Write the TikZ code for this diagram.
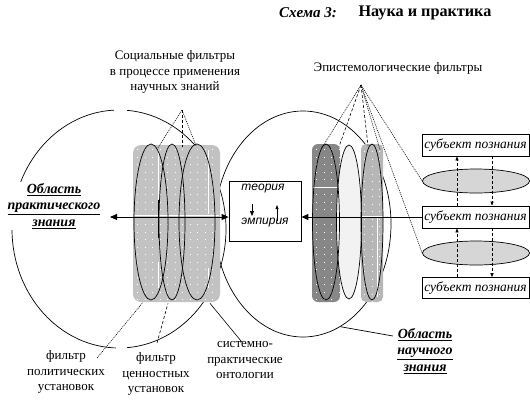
\documentclass[tikz,border=0pt]{standalone}
\usepackage{fontspec}
\setmainfont{Liberation Serif}
\setsansfont{Liberation Sans}
\usetikzlibrary{shapes.geometric,calc,arrows.meta}
\definecolor{lgrey}{RGB}{194,194,194}
\definecolor{dgrey}{RGB}{135,135,135}
\definecolor{mgrey}{RGB}{182,182,182}
\definecolor{vlight}{RGB}{242,242,242}
\definecolor{ellgrey}{RGB}{214,214,214}
\begin{document}
\begin{tikzpicture}[x=1pt,y=-1pt,
  thin line/.style={line width=0.7pt},
  bigcirc/.style={ellipse, draw, line width=0.7pt, inner sep=0pt},
  filt/.style={ellipse, draw, line width=0.7pt, inner sep=0pt},
  lbl/.style={font=\fontsize{13}{15.5}\selectfont, align=center, inner sep=0pt},
  area/.style={font=\fontsize{14}{16.5}\selectfont\bfseries\itshape, align=center, inner sep=1pt},
  subj/.style={draw, fill=white, line width=0.7pt, minimum width=107pt, minimum height=22pt, inner sep=0pt, font=\fontsize{13.5}{15}\selectfont\itshape},
  sansit/.style={font=\sffamily\itshape\fontsize{12}{14}\selectfont, inner sep=0pt},
  fdot/.style={line width=0.6pt, dash pattern=on 1pt off 1pt},
  fdash/.style={line width=0.6pt, dash pattern=on 3pt off 2pt},
  mainarrow/.style={line width=0.9pt, -{Triangle[length=7pt,width=6pt]}},
  smallarrow/.style={line width=0.7pt, -{Triangle[length=5pt,width=4pt]}},
  dasharrow/.style={line width=0.6pt, dash pattern=on 3pt off 2pt, -{Triangle[length=4pt,width=3pt]}},
  scanline/.style={white, line width=0.7pt}
]
\useasboundingbox (0,0) rectangle (530,410);

% title
\node[font=\fontsize{15}{18}\selectfont\bfseries\itshape, inner sep=0pt] (t1) at (308,13) {Схема 3:};
\node[font=\fontsize{16.2}{18}\selectfont\bfseries, inner sep=0pt] (t2) at (425,13) {Наука и практика};

% big regions
\node[bigcirc, minimum width=214pt, minimum height=238pt] (lc) at (119,229) {};
\node[bigcirc, minimum width=176pt, minimum height=226pt] (rc) at (303,224) {};
\fill[white] (114,105) rectangle (127,115);
\fill[white] (116,343) rectangle (127,353);

% left filter group background
\fill[lgrey, rounded corners=8pt] (133,145) rectangle (220,302);
\begin{scope}
  \clip[rounded corners=8pt] (133,145) rectangle (220,302);
  \foreach \x in {137,144.5,...,220} \foreach \y in {149,156.5,...,302}
    \fill[white] (\x,\y) rectangle ++(1.4,1.4);
\end{scope}
\draw[scanline] (158,150) -- (158,214);
\draw[scanline] (208,150) -- (208,214);
\draw[scanline] (158,262) -- (158,288);
\draw[scanline] (208,268) -- (208,288);
\draw[scanline] (134,215.5) -- (219,215.5);

% right filter backgrounds
\fill[dgrey, rounded corners=6pt] (312,144) rectangle (340,302);
\fill[mgrey, rounded corners=5pt] (361,144) rectangle (383,302);
\begin{scope}
  \clip[rounded corners=6pt] (312,144) rectangle (340,302);
  \foreach \x in {316,323.5,...,340} \foreach \y in {149,156.5,...,302}
    \fill[white] (\x,\y) rectangle ++(1.4,1.4);
\end{scope}
\begin{scope}
  \clip[rounded corners=5pt] (361,144) rectangle (383,302);
  \foreach \x in {364,371.5,...,383} \foreach \y in {151,158.5,...,302}
    \fill[white] (\x,\y) rectangle ++(1.4,1.4);
\end{scope}
\draw[scanline] (313,187) -- (340,187);
\draw[scanline] (362,216) -- (383,216);
\draw[scanline] (377,217) -- (377,297);

% filter ellipses
\node[filt, minimum width=34pt, minimum height=156pt] (e1) at (151,222) {};
\node[filt, minimum width=26pt, minimum height=156pt] (e2) at (172,222) {};
\node[filt, minimum width=36pt, minimum height=156pt] (e3) at (197,222) {};
\node[filt, fill=vlight, minimum width=25pt, minimum height=154pt] (e5) at (349,222) {};
\node[filt, minimum width=27pt, minimum height=156pt] (e4) at (326,222) {};
\node[filt, minimum width=22pt, minimum height=156pt] (e6) at (372,222) {};
\draw[line width=0.8pt] (158,200) -- (158,238);

% theory box
\node[draw, line width=0.8pt, fill=white, minimum width=72pt, minimum height=60pt, inner sep=0pt] (tb) at (265,211) {};
\node[sansit] (teo) at (263,189) {теория};
\node[sansit] (emp) at (265,223) {эмпирия};
\coordinate (d1) at (252,204);
\coordinate (d2) at (252,216);
\coordinate (u1) at (277,221);
\coordinate (u2) at (277,205);
\draw[smallarrow] (d1) -- (d2);
\draw[smallarrow, -{Triangle[length=4pt,width=3pt]}] (u1) -- (u2);

% subject boxes and ellipses
\node[subj] (s1) at (475.5,145) {субъект познания};
\node[subj] (s2) at (475.5,217) {субъект познания};
\node[subj, minimum height=21pt] (s3) at (475.5,288) {субъект познания};
\node[ellipse, draw, fill=ellgrey, line width=0.7pt, inner sep=0pt, minimum width=107pt, minimum height=24pt] (ea) at (476,181) {};
\node[ellipse, draw, fill=ellgrey, line width=0.7pt, inner sep=0pt, minimum width=107pt, minimum height=24pt] (eb) at (476,253) {};
\draw[dasharrow] ($(s2.north)+(-18.5,0)$) -- ($(s1.south)+(-18.5,0)$);
\draw[dasharrow] ($(s1.south)+(16.5,0)$) -- ($(s2.north)+(16.5,0)$);
\draw[dasharrow] ($(s3.north)+(-18.5,0)$) -- ($(s2.south)+(-18.5,0)$);
\draw[dasharrow] ($(s2.south)+(16.5,0)$) -- ($(s3.north)+(16.5,0)$);

% main arrows
\coordinate (la) at (110,217);
\draw[mainarrow, {Triangle[length=7pt,width=6pt]}-{Triangle[length=7pt,width=6pt]}] (la) -- (la -| tb.west);
\draw[mainarrow] (s2.west) -- (s2.west -| tb.east);

% labels
\node[lbl] (soc) at (175,72) {Социальные фильтры\\в процессе применения\\научных знаний};
\node[lbl] (epi) at (398,68) {Эпистемологические фильтры};
\node[area, fill=white] (ap) at (54,206) {\underline{Область}\\\underline{практического}\\\underline{знания}};
\node[area] (an) at (425,351) {\underline{Область}\\\underline{научного}\\\underline{знания}};
\node[lbl] (pol) at (66,372) {фильтр\\политических\\установок};
\node[lbl] (cen) at (156,374) {фильтр\\ценностных\\установок};
\node[lbl] (sys) at (245,360) {системно-\\практические\\онтологии};

% leaders: social filters
\coordinate (lap) at (182,110);
\draw[fdot] (lap) -- ($(e1.north)+(7,4)$);
\draw[fdash] (lap) -- ($(e2.north)+(10,3)$);
\draw[fdot] (lap) -- ($(e3.north)+(-1,2)$);
% leaders: epistemological filters
\coordinate (rap) at (361,85);
\draw[fdot] (rap) -- ($(e4.north)+(-4,4)$);
\draw[fdash] (rap) -- ($(e4.north)+(13,3)$);
\draw[fdash] (rap) -- ($(e6.north)+(-4,2)$);
\draw[fdot] (rap) -- ($(e6.north)+(8,6)$);
\draw[fdot] (rap) -- (ea.west);
\draw[fdot] (rap) -- (eb.west);
% leaders: bottom labels
\coordinate (pl) at (97,358);
\draw[fdot] (pl) -- ($(e1.south)+(-8,2)$);
\coordinate (cl) at (157,343);
\draw[fdash] (cl) -- ($(e2.south)+(-4,3)$);
\draw[thin line, line width=0.6pt] ($(sys.north)+(-3,1)$) -- ($(e3.south)+(13,3)$);
\coordinate (nl) at (393,336);
\draw[thin line] (rc.-70) -- (nl);
\end{tikzpicture}
\end{document}
